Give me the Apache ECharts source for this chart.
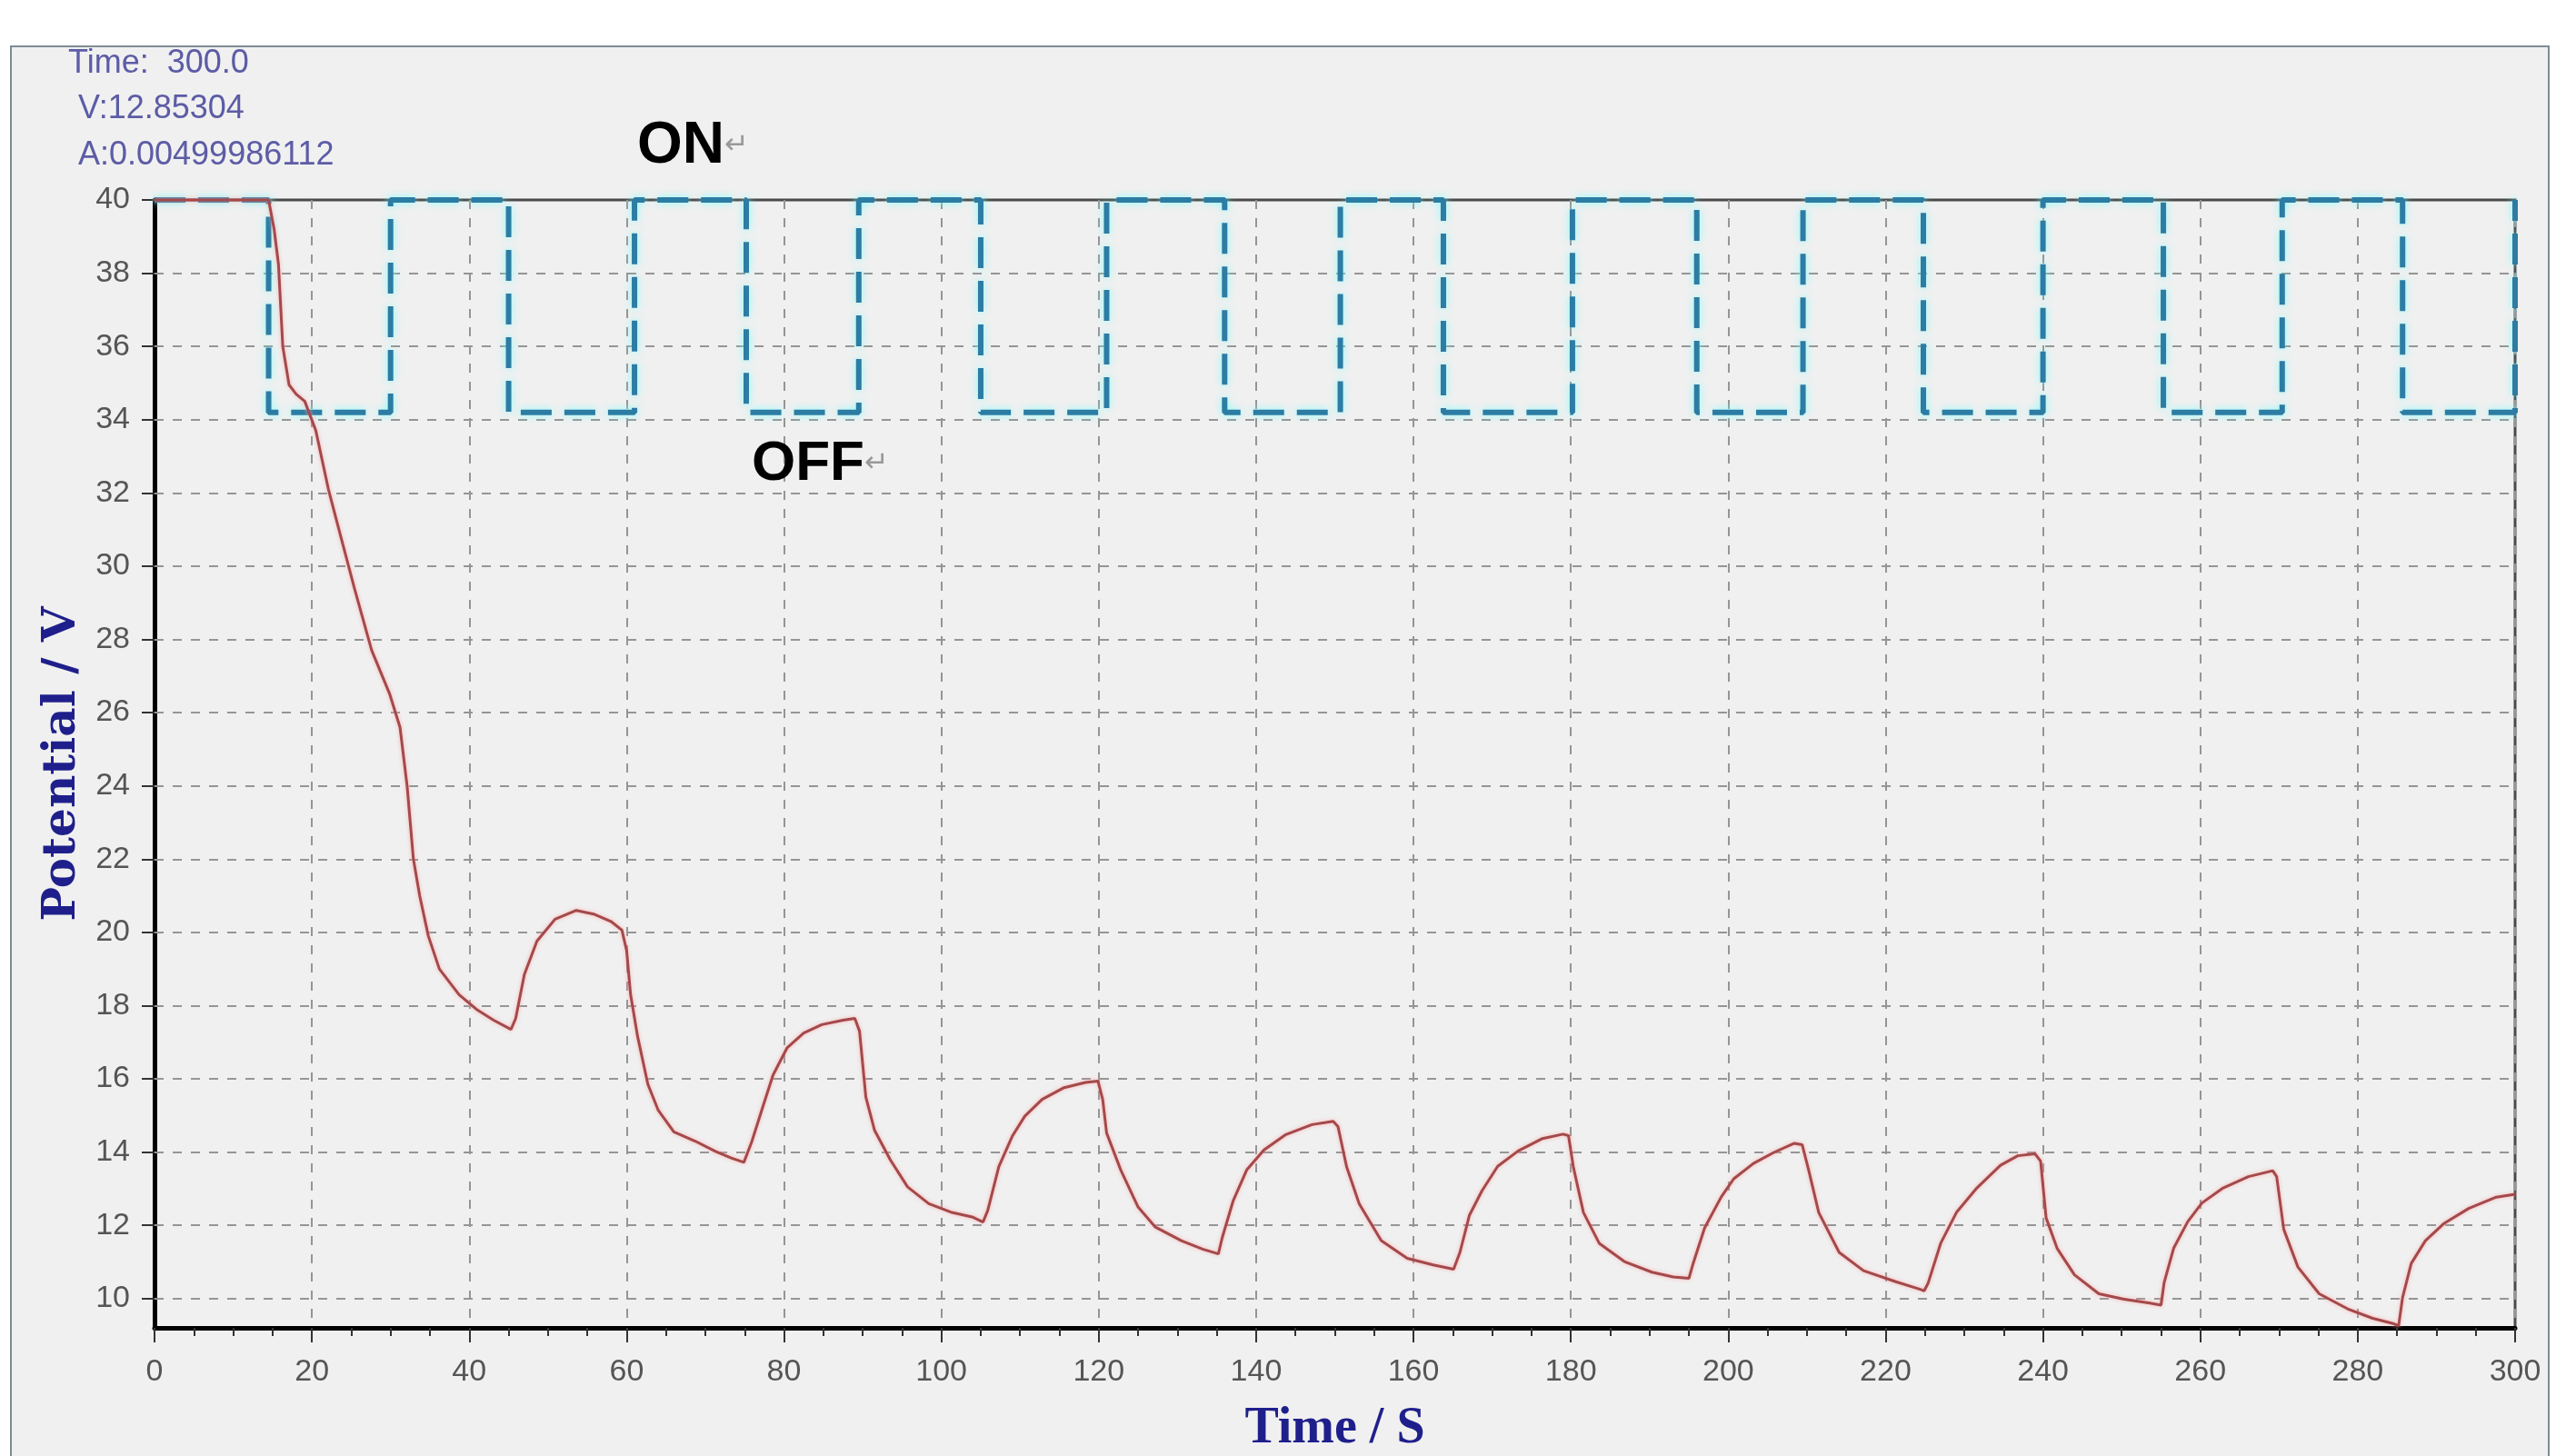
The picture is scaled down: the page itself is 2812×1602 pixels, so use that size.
<!DOCTYPE html>
<html>
<head>
<meta charset="utf-8">
<title>Potential vs Time</title>
<script src="https://cdn.jsdelivr.net/npm/echarts@6/dist/echarts.min.js"></script>
<style>
    html, body { margin: 0; padding: 0; background: #fff; }
    #frame { position: absolute; left: 11px; top: 50px; width: 2790px; height: 1560px; background: #f0f0f0; border: 2px solid #7d8c92; }
    #chart { position: absolute; left: 0; top: 0; width: 2812px; height: 1602px; }
</style>
</head>
<body>
<div id="frame"></div>
<div id="chart"></div>
<script>
// measured potential (red trace)
const curveT = [0, 14.5, 15.2, 15.75, 16.3, 17.1, 18.0, 19.1, 20.5, 22.1, 23.8, 25.4, 27.6, 29.9, 31.2, 32.1, 32.9, 33.7, 34.8, 36.2, 38.7, 40.9, 43.1, 45.3,
    45.9, 47.0, 48.6, 50.9, 53.6, 55.8, 58.0, 59.4, 60.0, 60.5, 61.4, 62.7, 64.0, 66.0, 68.7, 71.3, 73.3, 74.9,
    75.9, 77.3, 78.6, 80.4, 82.5, 84.8, 87.5, 89.0, 89.6, 90.4, 91.5, 93.5, 95.7, 98.4, 101.2, 103.9, 105.3,
    105.9, 107.3, 109.0, 110.6, 112.8, 115.6, 118.3, 119.9, 120.5, 121.0, 122.8, 125.0, 127.2, 130.5, 133.2, 135.2,
    135.7, 137.1, 138.8, 141.0, 143.7, 147.1, 149.8, 150.4, 151.5, 153.1, 155.9, 159.2, 162.5, 165.1,
    165.9, 167.1, 168.7, 170.7, 173.3, 176.4, 179.0, 179.7, 180.3, 181.6, 183.6, 186.8, 190.3, 193.0, 195.0,
    195.5, 197.0, 199.1, 200.7, 203.2, 205.8, 208.4, 209.4, 210.2, 211.5, 214.1, 217.2, 221.3, 224.4, 224.9,
    225.4, 227.0, 229.0, 231.6, 234.6, 236.8, 239.0, 239.7, 240.4, 241.8, 244.0, 247.1, 250.3, 253.4, 255.0,
    255.4, 256.6, 258.4, 260.2, 262.9, 266.1, 269.2, 269.7, 270.6, 272.4, 275.1, 278.7, 281.9, 284.6, 285.2,
    285.7, 286.8, 288.6, 290.9, 294.1, 297.6, 300];
const curveV = [40, 40, 39.2, 38.25, 36.0, 34.95, 34.7, 34.5, 33.7, 32.1, 30.7, 29.4, 27.7, 26.5, 25.6, 24.0, 22.0, 21.0, 19.9, 19.0, 18.3, 17.9, 17.6, 17.35,
    17.65, 18.85, 19.76, 20.36, 20.6, 20.5, 20.3, 20.06, 19.5, 18.3, 17.15, 15.85, 15.15, 14.55, 14.3, 14.02, 13.84, 13.72,
    14.28, 15.23, 16.1, 16.85, 17.25, 17.48, 17.6, 17.65, 17.3, 15.5, 14.6, 13.79, 13.05, 12.59, 12.36, 12.23, 12.09,
    12.41, 13.6, 14.43, 14.98, 15.44, 15.76, 15.9, 15.94, 15.44, 14.52, 13.51, 12.5, 11.95, 11.58, 11.35, 11.22,
    11.67, 12.68, 13.51, 14.06, 14.47, 14.75, 14.84, 14.7, 13.6, 12.59, 11.58, 11.1, 10.92, 10.8,
    11.26, 12.27, 12.94, 13.61, 14.03, 14.37, 14.49, 14.45, 13.61, 12.35, 11.51, 11.01, 10.72, 10.59, 10.55,
    10.93, 11.93, 12.77, 13.27, 13.69, 13.99, 14.24, 14.2, 13.53, 12.35, 11.26, 10.76, 10.46, 10.25, 10.21,
    10.42, 11.51, 12.35, 13.02, 13.64, 13.9, 13.95, 13.75, 12.2, 11.37, 10.65, 10.13, 9.98, 9.88, 9.82,
    10.44, 11.37, 12.1, 12.61, 13.02, 13.33, 13.49, 13.33, 11.89, 10.86, 10.13, 9.72, 9.46, 9.31, 9.26,
    10.03, 10.96, 11.58, 12.04, 12.46, 12.77, 12.85];

// ON / OFF square wave
const waveT = [0, 14.5, 14.5, 30, 30, 45, 45, 61, 61, 75.2, 75.2, 89.5, 89.5, 105, 105, 121, 121, 136, 136, 150.7, 150.7,
    163.8, 163.8, 180.2, 180.2, 196, 196, 209.5, 209.5, 224.8, 224.8, 240, 240, 255.3, 255.3, 270.4, 270.4, 285.7, 285.7, 300, 300];
const waveV = [40, 40, 34.2, 34.2, 40, 40, 34.2, 34.2, 40, 40, 34.2, 34.2, 40, 40, 34.2, 34.2, 40, 40, 34.2, 34.2, 40,
    40, 34.2, 34.2, 40, 40, 34.2, 34.2, 40, 40, 34.2, 34.2, 40, 40, 34.2, 34.2, 40, 40, 34.2, 34.2, 40];

const yTicks = [10, 12, 14, 16, 18, 20, 22, 24, 26, 28, 30, 32, 34, 36, 38, 40];

const sans = "'Liberation Sans', Arial, sans-serif";
const gridDash = { color: '#959595', width: 2, type: [10, 10] };

var chart = echarts.init(document.getElementById('chart'));
var option = {
    backgroundColor: 'transparent',
    animation: false,
    grid: {
        left: 170, right: 45, top: 220, bottom: 141,
        outerBoundsMode: 'none', containLabel: false,
        show: true, backgroundColor: '#f0f0f0', borderColor: '#4a4a4a', borderWidth: 3
    },
    xAxis: {
        type: 'value', min: 0, max: 300, interval: 20,
        name: 'Time / S', nameLocation: 'middle', nameGap: 84,
        nameTextStyle: { fontFamily: "'Liberation Serif', serif", fontWeight: 'bold', fontSize: 56, color: '#1f1f8c' },
        axisLine: { show: true, onZero: false, lineStyle: { color: '#000', width: 5 } },
        axisTick: { show: true, length: 16, lineStyle: { color: '#333', width: 2 } },
        minorTick: { show: true, splitNumber: 4, length: 9, lineStyle: { color: '#333', width: 2 } },
        axisLabel: { margin: 32, fontFamily: sans, fontSize: 34, color: '#555' },
        splitLine: { show: true, lineStyle: gridDash }
    },
    yAxis: {
        type: 'value', min: 9.2, max: 40,
        name: 'Potential / V', nameLocation: 'middle', nameGap: 74, nameRotate: 90,
        nameTextStyle: { fontFamily: "'DejaVu Serif', serif", fontWeight: 'bold', fontSize: 50, color: '#1f1f8c' },
        axisLine: { show: true, onZero: false, lineStyle: { color: '#000', width: 5 } },
        axisTick: { show: true, customValues: yTicks, length: 14, lineStyle: { color: '#333', width: 2 } },
        axisLabel: { customValues: yTicks, margin: 27, fontFamily: sans, fontSize: 34, color: '#555' },
        splitLine: { show: false }
    },
    series: [
        {
            // horizontal grid lines
            name: 'grid', type: 'line', data: [], silent: true, z: 1,
            markLine: {
                silent: true, symbol: 'none', z: 1, animation: false,
                label: { show: false },
                lineStyle: gridDash,
                data: yTicks.filter(v => v < 40).map(v => ({ yAxis: v }))
            }
        },
        {
            name: 'ON/OFF', type: 'line', clip: false, z: 3,
            symbol: 'none',
            data: waveT.map((t, i) => [t, waveV[i]]),
            lineStyle: { color: '#2c7ca3', width: 6, type: [34, 14], shadowColor: 'rgba(120,255,255,0.9)', shadowBlur: 8 }
        },
        {
            name: 'Potential', type: 'line', clip: false, z: 4,
            symbol: 'none',
            data: curveT.map((t, i) => [t, curveV[i]]),
            lineStyle: { color: '#a4494b', width: 3, shadowColor: 'rgba(255,160,160,0.8)', shadowBlur: 4 }
        }
    ],
    graphic: [
        { type: 'text', left: 75, top: 52, z: 100, style: { text: 'Time:  300.0', fontFamily: sans, fontSize: 36, fill: '#5c5ca6' } },
        { type: 'text', left: 86, top: 102, z: 100, style: { text: 'V:12.85304', fontFamily: sans, fontSize: 36, fill: '#5c5ca6' } },
        { type: 'text', left: 86, top: 153, z: 100, style: { text: 'A:0.00499986112', fontFamily: sans, fontSize: 36, fill: '#5c5ca6' } },
        {
            type: 'text', left: 701, top: 129, z: 100,
            style: {
                text: '{a|ON}{b|↵}',
                rich: {
                    a: { fontFamily: sans, fontWeight: 'bold', fontSize: 64, fill: '#000' },
                    b: { fontFamily: "'DejaVu Sans', sans-serif", fontSize: 32, fill: '#999' }
                }
            }
        },
        {
            type: 'text', left: 827, top: 480, z: 100,
            style: {
                text: '{a|OFF}{b|↵}',
                rich: {
                    a: { fontFamily: sans, fontWeight: 'bold', fontSize: 62, fill: '#000' },
                    b: { fontFamily: "'DejaVu Sans', sans-serif", fontSize: 32, fill: '#999' }
                }
            }
        }
    ]
};
chart.setOption(option);
</script>
</body>
</html>
